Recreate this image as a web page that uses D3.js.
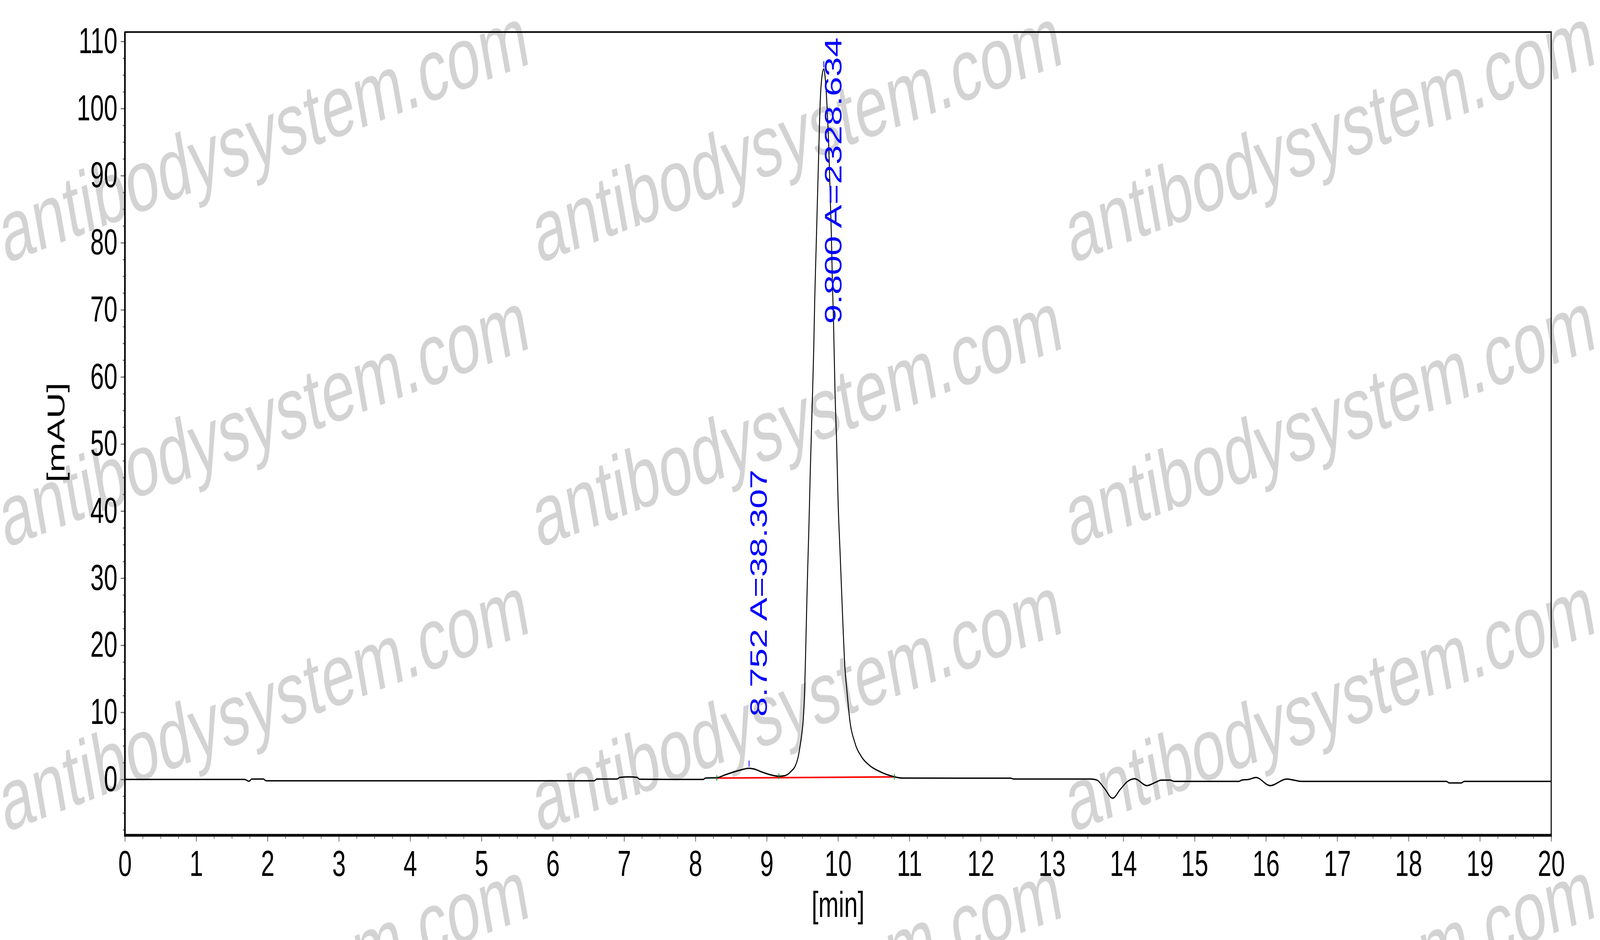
<!DOCTYPE html>
<html>
<script src="https://d3js.org/d3.v7.min.js"></script>

<head>
    <style>
        html,
        body {
            margin: 0;
            padding: 0;
            overflow: hidden;
            background-color: #ffffff;
        }

        svg {
            display: block;
            width: 100vw;
            height: 100vh;
        }

        text {
            font-family: "Liberation Sans", Arial, Helvetica, sans-serif;
        }
    </style>
</head>

<body>
</body>
<script>
    const width = 6033,
        height = 2406;

    // chromatogram trace (time in min, signal in mAU)
    const times = [0.00, 1.68, 1.74, 1.78, 1.94, 1.98, 6.58, 6.62, 6.90, 6.94, 7.07, 7.18, 7.22,
        8.11, 8.14, 8.30, 8.42, 8.52, 8.65, 8.752, 8.82, 8.92, 9.05, 9.17, 9.25, 9.30, 9.34,
        9.40, 9.435, 9.465, 9.493, 9.512, 9.531, 9.55, 9.569, 9.591, 9.61, 9.643, 9.659, 9.673,
        9.692, 9.711, 9.730, 9.749, 9.777, 9.80, 9.82, 9.843, 9.871, 9.891, 9.906, 9.918, 9.937,
        9.957, 9.981, 10.00, 10.03, 10.06, 10.094, 10.126, 10.164, 10.232, 10.327, 10.44, 10.60,
        10.78, 10.90, 12.42, 12.46, 13.55, 13.63, 13.73, 13.85, 13.96, 14.06, 14.16, 14.33,
        14.46, 14.53, 14.66, 14.71, 15.62, 15.66, 15.76, 15.86, 16.06, 16.29, 16.39, 16.49,
        18.53, 18.57, 18.74, 18.78, 20.00];
    const signal = [0.00, 0.00, -0.28, 0.05, 0.05, -0.20, -0.20, 0.05, 0.05, 0.30, 0.38, 0.30, 0.02,
        0.00, 0.20, 0.25, 0.70, 1.05, 1.45, 1.65, 1.55, 1.15, 0.70, 0.48, 0.55, 0.80, 1.20,
        2.00, 3.10, 4.80, 6.90, 8.90, 13.0, 21.0, 29.4, 37.5, 45.7, 57.9, 64.2, 71.6,
        79.0, 86.5, 93.9, 100.8, 105.0, 105.9, 104.5, 100.8, 93.9, 86.5, 81.2, 75.3, 67.9,
        57.9, 49.8, 41.6, 33.4, 25.3, 17.1, 13.0, 8.9, 5.6, 3.4, 2.1, 1.10,
        0.42, 0.20, 0.18, 0.06, 0.06, -0.10, -1.26, -2.80, -1.45, -0.30, 0.10, -0.93,
        -0.39, -0.10, -0.10, -0.29, -0.29, -0.10, 0.00, 0.29, -0.93, 0.06, -0.10, -0.29,
        -0.29, -0.52, -0.52, -0.29, -0.29];

    // integrated peaks
    const peakTimes = [8.752, 9.800];
    const peakHeights = [1.65, 105.9];
    const peakAreas = ["38.307", "2328.634"];

    // integration baseline (red) and its split marks (green)
    const baselineTimes = [8.30, 10.79];
    const baselineValues = [0.20, 0.38];
    const splitTimes = [8.30, 9.17, 10.79];
    const splitValues = [0.22, 0.48, 0.40];

    // axis ticks
    const xTickValues = [0, 1, 2, 3, 4, 5, 6, 7, 8, 9, 10, 11, 12, 13, 14, 15, 16, 17, 18, 19, 20];
    const yTickValues = [0, 10, 20, 30, 40, 50, 60, 70, 80, 90, 100, 110];

    // watermark grid
    const watermarkText = "antibodysystem.com";
    const watermarkX = [20, 2030, 4040];
    const watermarkY = [675, 1403, 2131, 2859];

    const plotLeft = 471, plotRight = 5849, plotTop = 82, plotBottom = 2138;

    // drawn in a fixed 6033x2406 coordinate space, stretched to whatever the window is
    const svg = d3.select("body").append("svg")
        .attr("viewBox", `0 0 ${width} ${height}`)
        .attr("preserveAspectRatio", "none");

    const x = d3.scaleLinear().domain([0, 20]).range([plotLeft, plotRight]);
    const y = d3.scaleLinear().domain([-8.33, 111.4]).range([plotBottom, plotTop]);

    svg.append("rect").attr("width", width).attr("height", height).attr("fill", "white");

    // watermark sits behind the plot
    const wm = svg.append("g").attr("class", "watermark");
    watermarkY.forEach(wy => {
        watermarkX.forEach(wx => {
            wm.append("text")
                .attr("transform", `translate(${wx},${wy}) rotate(-14.5)`)
                .attr("font-size", 225)
                .attr("fill", "#d3d3d3")
                .text(watermarkText);
        });
    });

    // minor ticks
    const tickColor = "#7a7a7a";
    const xMinor = svg.append("g")
        .attr("transform", `translate(0,${plotBottom})`)
        .call(d3.axisBottom(x).tickValues(d3.range(0, 20.01, 0.25)).tickSize(9).tickFormat(""));
    const yMinor = svg.append("g")
        .attr("transform", `translate(${plotLeft},0)`)
        .call(d3.axisLeft(y).tickValues(d3.range(-7.5, 110.01, 2.5)).tickSize(8).tickFormat(""));

    // major ticks + labels
    const xAxis = svg.append("g")
        .attr("transform", `translate(0,${plotBottom})`)
        .call(d3.axisBottom(x).tickValues(xTickValues).tickSize(16).tickPadding(23).tickFormat(d3.format("d")));
    const yAxis = svg.append("g")
        .attr("transform", `translate(${plotLeft},0)`)
        .call(d3.axisLeft(y).tickValues(yTickValues).tickSize(16).tickPadding(12).tickFormat(d3.format("d")));

    [xMinor, yMinor, xAxis, yAxis].forEach(g => {
        g.select(".domain").remove();
        g.selectAll(".tick line").attr("stroke", tickColor).attr("stroke-width", 3);
        g.selectAll("text").attr("font-size", 92).attr("fill", "black")
            .attr("font-family", "'Liberation Sans', Arial, sans-serif");
    });

    // frame
    svg.append("rect")
        .attr("x", plotLeft).attr("y", plotTop)
        .attr("width", plotRight - plotLeft).attr("height", plotBottom - plotTop)
        .attr("fill", "none").attr("stroke", "black").attr("stroke-width", 4);
    svg.append("line")
        .attr("x1", plotLeft).attr("x2", plotLeft).attr("y1", plotTop).attr("y2", plotBottom + 3)
        .attr("stroke", "black").attr("stroke-width", 6);
    svg.append("line")
        .attr("x1", plotLeft - 3).attr("x2", plotRight + 2).attr("y1", plotBottom).attr("y2", plotBottom)
        .attr("stroke", "black").attr("stroke-width", 7);

    // axis titles
    svg.append("text")
        .attr("x", (plotLeft + plotRight) / 2).attr("y", 2347)
        .attr("text-anchor", "middle").attr("font-size", 92)
        .text("[min]");
    svg.append("text")
        .attr("transform", `translate(243,1107) rotate(-90)`)
        .attr("text-anchor", "middle").attr("font-size", 92)
        .text("[mAU]");

    const plot = svg.append("g");
    svg.append("defs").append("clipPath").attr("id", "clip")
        .append("rect").attr("x", plotLeft).attr("y", plotTop)
        .attr("width", plotRight - plotLeft).attr("height", plotBottom - plotTop);

    // integration baseline
    plot.append("line")
        .attr("x1", x(baselineTimes[0])).attr("y1", y(baselineValues[0]))
        .attr("x2", x(baselineTimes[1])).attr("y2", y(baselineValues[1]))
        .attr("stroke", "#ff0000").attr("stroke-width", 4);

    // trace
    const trace = times.map((t, i) => [t, signal[i]]);
    const line = d3.line()
        .x(d => x(d[0]))
        .y(d => y(d[1]))
        .curve(d3.curveMonotoneX);
    plot.append("path")
        .datum(trace)
        .attr("d", line)
        .attr("fill", "none")
        .attr("stroke", "black")
        .attr("stroke-width", 3.5)
        .attr("stroke-linejoin", "round")
        .attr("clip-path", "url(#clip)");

    // split marks
    plot.selectAll(".split")
        .data(splitTimes)
        .join("line")
        .attr("class", "split")
        .attr("x1", d => x(d)).attr("x2", d => x(d))
        .attr("y1", (d, i) => y(splitValues[i]) - 7)
        .attr("y2", (d, i) => y(splitValues[i]) + 7)
        .attr("stroke", "#1a8a1a").attr("stroke-width", 3);

    // apex marks and peak labels
    plot.selectAll(".apex")
        .data(peakTimes)
        .join("line")
        .attr("class", "apex")
        .attr("x1", d => x(d)).attr("x2", d => x(d))
        .attr("y1", (d, i) => y(peakHeights[i]) - 4)
        .attr("y2", (d, i) => y(peakHeights[i]) - 20)
        .attr("stroke", "#0000ff").attr("stroke-width", 3);

    peakTimes.forEach((t, i) => {
        const label = plot.append("text")
            .attr("font-size", 90)
            .attr("fill", "#0000ff")
            .text(`${t.toFixed(3)} A=${peakAreas[i]}`);
        const len = label.node().getComputedTextLength();
        const start = Math.max(y(peakHeights[i]) - 132, plotTop + 14 + len);
        label.attr("transform", `translate(${x(t) + 67},${start}) rotate(-90)`);
    });
</script>

</html>
